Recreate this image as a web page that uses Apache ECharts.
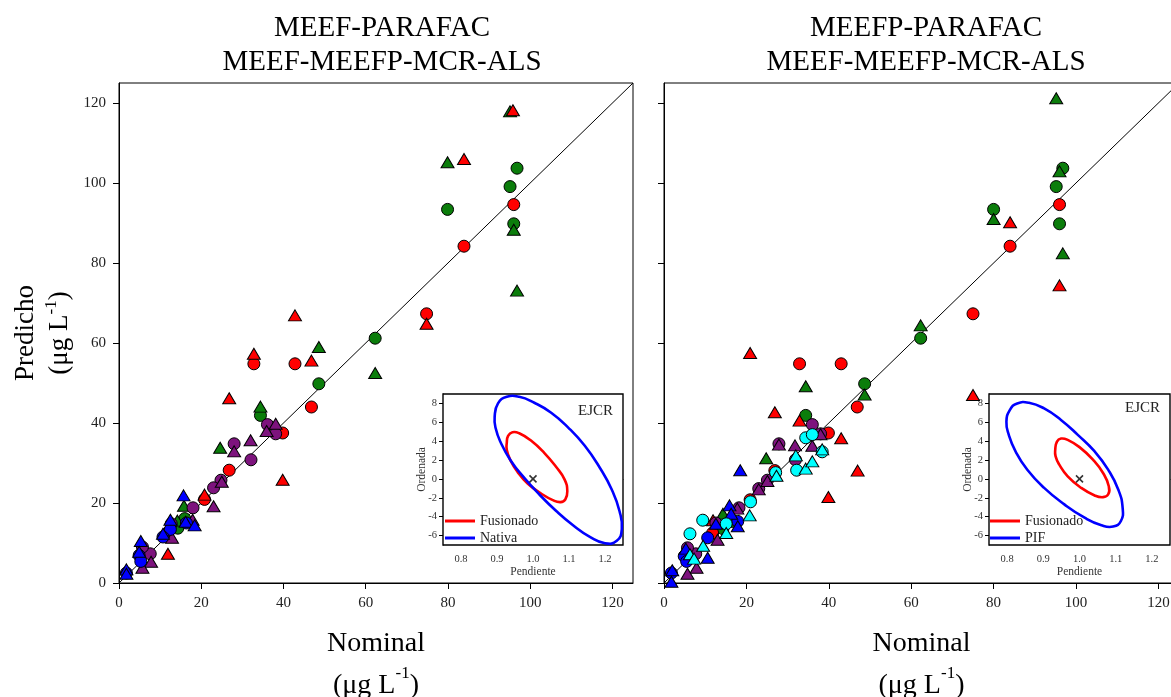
<!DOCTYPE html>
<html><head><meta charset="utf-8">
<script src="https://cdn.jsdelivr.net/npm/echarts@6/dist/echarts.min.js"></script>
<style>html,body{margin:0;padding:0;background:#fff}#c{width:1171px;height:697px}</style>
</head><body><div id="c"></div>
<script>
const SERIF = "'Liberation Serif','Times New Roman',serif";

// ---------- tick values ----------
const mainTicks = [0, 20, 40, 60, 80, 100, 120];
const insetXTicks = [0.8, 0.9, 1.0, 1.1, 1.2];
const insetYTicks = [-6, -4, -2, 0, 2, 4, 6, 8];
const identityLine = [[0, 0], [125, 125]];
const idealPoint = [[1.0, 0]];

// ---------- Left panel: MEEF-PARAFAC / MEEF-MEEFP-MCR-ALS ----------
const L_redCirc = [[96,94.6],[83.9,84.2],[74.8,67.3],[32.8,54.8],[42.8,54.8],[46.8,44.0],[39.8,37.5],[26.8,28.2],[20.8,20.9],[11.9,12.6]];
const L_redTri = [[95.8,118.2],[83.9,106.0],[74.8,64.8],[42.8,66.9],[32.8,57.3],[46.8,55.6],[26.8,46.2],[39.8,25.8],[20.8,22.1],[11.9,7.3]];
const L_greenCirc = [[96.8,103.7],[95.1,99.1],[79.9,93.4],[96.0,89.8],[62.3,61.2],[48.6,49.8],[34.4,41.9],[16.0,16.1],[14.3,13.7]];
const L_greenTri = [[95.1,117.9],[79.9,105.2],[96.0,88.3],[96.8,73.1],[48.6,59.0],[62.3,52.5],[34.4,44.1],[24.6,33.8],[15.8,19.3],[14.2,15.6]];
const L_purpleCirc = [[36.1,39.6],[38.1,37.3],[28.0,34.8],[32.1,30.8],[24.8,25.7],[23.0,23.8],[18.0,18.8],[12.7,14.8],[7.6,7.3],[5.7,9.0]];
const L_purpleTri = [[38.1,39.8],[35.9,38.0],[32.0,35.7],[28.0,32.9],[25.0,25.3],[23.0,19.2],[17.9,15.8],[12.9,11.3],[7.8,5.3],[5.7,3.8]];
const L_blueCirc = [[16.4,15.0],[12.5,13.4],[10.7,11.5],[4.9,6.9],[5.3,5.4],[1.8,2.5]];
const L_blueTri = [[15.7,21.9],[12.5,15.8],[16.2,15.3],[18.4,14.4],[10.7,12.3],[5.3,10.5],[4.9,7.8],[1.8,3.4],[1.8,2.3]];

// ---------- Right panel: MEEFP-PARAFAC / MEEF-MEEFP-MCR-ALS ----------
const R_redCirc = [[96,94.6],[84.0,84.2],[75.0,67.3],[32.9,54.8],[43.0,54.8],[46.9,44.0],[39.9,37.5],[26.9,28.1],[20.9,20.8],[11.8,12.5]];
const R_redTri = [[84.0,90.2],[96.0,74.4],[75.0,47.0],[20.9,57.5],[26.9,42.7],[32.9,40.6],[43.0,36.2],[47.0,28.1],[39.9,21.5],[11.9,15.7]];
const R_greenCirc = [[96.8,103.7],[95.2,99.1],[80.0,93.4],[96.0,89.8],[62.3,61.2],[48.7,49.8],[34.4,41.9],[14.3,13.6]];
const R_greenTri = [[95.2,121.2],[96.0,102.9],[80.0,91.0],[96.8,82.4],[62.3,64.4],[48.7,47.1],[34.4,49.2],[24.8,31.2],[14.3,17.3],[16.1,15.3]];
const R_purpleCirc = [[36.0,39.6],[38.0,37.3],[27.9,34.8],[31.9,30.8],[25.1,25.7],[23.0,23.6],[18.2,18.8],[12.6,15.0],[7.7,7.3],[5.7,8.8]];
const R_purpleTri = [[38.0,37.2],[27.9,34.6],[31.8,34.4],[36.0,34.3],[25.1,25.5],[23.0,23.4],[17.8,18.6],[13.0,10.8],[7.9,3.8],[5.7,2.3]];
const R_blueCirc = [[17.9,15.4],[10.6,11.3],[4.9,6.7],[5.5,5.4],[1.8,2.5]];
const R_blueTri = [[18.5,28.2],[15.9,19.4],[16.3,17.3],[17.9,14.2],[10.6,6.3],[5.3,8.6],[2.0,3.2],[1.8,0.3],[12.6,14.8]];
const R_cyanCirc = [[9.4,15.7],[6.3,12.3],[21.0,20.3],[27.1,27.6],[32.2,28.2],[34.4,36.3],[36.0,37.1],[38.4,32.8],[15.1,14.8]];
const R_cyanTri = [[20.8,16.9],[15.1,12.5],[9.5,9.3],[6.3,7.2],[7.3,6.1],[27.3,26.8],[32.0,31.9],[34.4,28.6],[36.0,30.4],[38.4,33.4]];

// ---------- EJCR ellipses (pendiente, ordenada) ----------
const L_fusionado = [[0.9271,3.79],[0.9308,4.56],[0.9430,4.95],[0.9617,4.84],[0.9944,4.07],[1.0318,2.74],[1.0645,1.26],[1.0879,-0.07],[1.0953,-1.30],[1.0897,-2.18],[1.0766,-2.46],[1.0551,-2.25],[1.0224,-1.54],[0.9850,-0.49],[0.9570,0.74],[0.9364,2.04],[0.9271,3.09]];
const L_nativa = [[0.8935,6.60],[0.9028,8.00],[0.9271,8.70],[0.9617,8.70],[1.0037,8.07],[1.0505,7.02],[1.0972,5.47],[1.1439,3.51],[1.1860,1.16],[1.2187,-1.12],[1.2402,-3.40],[1.2467,-5.33],[1.2327,-6.56],[1.2000,-6.81],[1.1579,-6.14],[1.1112,-4.91],[1.0645,-3.40],[1.0178,-1.65],[0.9757,0.11],[0.9383,1.93],[0.9103,3.86],[0.8963,5.37]];
const R_fusionado = [[0.9330,3.09],[0.9377,3.96],[0.9488,4.28],[0.9674,4.14],[1.0000,3.37],[1.0372,2.04],[1.0651,0.63],[1.0809,-0.77],[1.0791,-1.65],[1.0651,-1.93],[1.0419,-1.75],[1.0047,-0.95],[0.9674,0.28],[0.9442,1.51],[0.9340,2.39]];
const R_pif = [[0.7981,6.07],[0.8074,7.30],[0.8279,8.00],[0.8605,8.07],[0.9023,7.47],[0.9488,6.25],[0.9953,4.67],[1.0419,2.91],[1.0791,0.98],[1.1070,-1.12],[1.1191,-3.05],[1.1144,-4.46],[1.0930,-5.05],[1.0605,-4.91],[1.0140,-4.11],[0.9581,-2.70],[0.9023,-0.95],[0.8558,0.98],[0.8233,2.91],[0.8047,4.67]];

const COL = {red:'#ff0000', green:'#0b7d0b', purple:'#7d137d', blue:'#0000ff', cyan:'#00ffff'};

function pts(name, data, color, shape, gi) {
  return {
    type: 'scatter', name, data, xAxisIndex: gi, yAxisIndex: gi,
    symbol: shape === 'c' ? 'circle' : 'triangle',
    symbolSize: shape === 'c' ? 12 : [13, 11],
    itemStyle: {color, borderColor: '#000', borderWidth: 1, opacity: 1},
    silent: true, z: 3
  };
}
function ellipse(name, data, color, gi) {
  return {
    type: 'custom', name, xAxisIndex: gi, yAxisIndex: gi,
    coordinateSystem: 'cartesian2d',
    data: [data[0]],
    itemStyle: {color},
    renderItem: function (params, api) {
      return {
        type: 'polygon',
        shape: {points: data.map(p => api.coord(p)), smooth: 0.5},
        style: {fill: 'none', stroke: color, lineWidth: 2.6}
      };
    },
    silent: true, z: 8
  };
}

const labelStyle = {fontFamily: SERIF, fontSize: 15, color: '#222'};
const nameRich = {
  m: {fontFamily: SERIF, fontSize: 28, color: '#000', lineHeight: 42},
  s: {fontFamily: SERIF, fontSize: 17, color: '#000', lineHeight: 12, verticalAlign: 'top'}
};
const nameRichY = {
  m: {fontFamily: SERIF, fontSize: 27, color: '#000', lineHeight: 34},
  s: {fontFamily: SERIF, fontSize: 17, color: '#000', lineHeight: 10, verticalAlign: 'top'}
};

function mainX(gi, showLabel) {
  return {
    gridIndex: gi, type: 'value', min: 0, max: 125, interval: 20,
    axisLine: {show: true, lineStyle: {color: '#000', width: 1}},
    axisTick: {show: true, customValues: mainTicks, length: 6, lineStyle: {color: '#000'}},
    axisLabel: {show: showLabel, customValues: mainTicks, margin: 13, ...labelStyle},
    splitLine: {show: false},
    name: '{m|Nominal}\n{m|(μg L}{s|-1}{m|)}', nameLocation: 'middle', nameGap: 40,
    nameTextStyle: {rich: nameRich, fontFamily: SERIF, fontSize: 28, lineHeight: 42}
  };
}
function mainY(gi, showLabel) {
  const a = {
    gridIndex: gi, type: 'value', min: 0, max: 125, interval: 20,
    axisLine: {show: true, lineStyle: {color: '#000', width: 1}},
    axisTick: {show: true, customValues: mainTicks, length: 6, lineStyle: {color: '#000'}},
    axisLabel: {show: showLabel, customValues: mainTicks, margin: 13, ...labelStyle},
    splitLine: {show: false}
  };
  if (showLabel) {
    a.name = '{m|Predicho}\n{m|(μg L}{s|-1}{m|)}';
    a.nameLocation = 'middle'; a.nameGap = 42; a.nameRotate = 90;
    a.nameTextStyle = {rich: nameRichY, fontFamily: SERIF, fontSize: 27, lineHeight: 34};
  }
  return a;
}
function insetX(gi) {
  return {
    gridIndex: gi, type: 'value', min: 0.75, max: 1.25, interval: 0.1,
    axisLine: {show: true, lineStyle: {color: '#000'}},
    axisTick: {show: true, customValues: insetXTicks, length: 4, lineStyle: {color: '#000'}},
    axisLabel: {customValues: insetXTicks, margin: 9, fontFamily: SERIF, fontSize: 10.5, color: '#333',
      formatter: v => Number(v).toFixed(1)},
    splitLine: {show: false},
    name: 'Pendiente', nameLocation: 'middle', nameGap: 20,
    nameTextStyle: {fontFamily: SERIF, fontSize: 11.5, color: '#333'}
  };
}
function insetY(gi) {
  return {
    gridIndex: gi, type: 'value', min: -7, max: 9, interval: 2,
    axisLine: {show: true, lineStyle: {color: '#000'}},
    axisTick: {show: true, customValues: insetYTicks, length: 4, lineStyle: {color: '#000'}},
    axisLabel: {customValues: insetYTicks, margin: 6, fontFamily: SERIF, fontSize: 10.5, color: '#333'},
    splitLine: {show: false},
    name: 'Ordenada', nameLocation: 'middle', nameGap: 15, nameRotate: 90, nameMoveOverlap: false,
    nameTextStyle: {fontFamily: SERIF, fontSize: 11.5, color: '#333'}
  };
}

const chart = echarts.init(document.getElementById('c'), null, {renderer: 'canvas'});
const legendCommon = {
  orient: 'vertical', itemWidth: 30, itemHeight: 3, itemGap: 3, padding: 0, z: 20,
  selectedMode: false,
  textStyle: {fontFamily: SERIF, fontSize: 14, color: '#222'}
};
const gridCommon = {show: true, borderColor: '#000', outerBoundsMode: 'none', containLabel: false};

chart.setOption({
  animation: false,
  backgroundColor: '#fff',
  title: [
    {text: 'MEEF-PARAFAC\nMEEF-MEEFP-MCR-ALS', left: 377, top: 6, textAlign: 'center',
     textStyle: {fontFamily: SERIF, fontSize: 29, fontWeight: 'normal', color: '#000', lineHeight: 34}},
    {text: 'MEEFP-PARAFAC\nMEEF-MEEFP-MCR-ALS', left: 921, top: 6, textAlign: 'center',
     textStyle: {fontFamily: SERIF, fontSize: 29, fontWeight: 'normal', color: '#000', lineHeight: 34}}
  ],
  grid: [
    Object.assign({left: 119, top: 83, width: 514, height: 500, borderWidth: 1, backgroundColor: 'transparent'}, gridCommon),
    Object.assign({left: 664, top: 83, width: 515, height: 500, borderWidth: 1, backgroundColor: 'transparent'}, gridCommon),
    Object.assign({left: 443, top: 394, width: 180, height: 151, borderWidth: 1.4, backgroundColor: '#fff', z: 1}, gridCommon),
    Object.assign({left: 989, top: 394, width: 181, height: 151, borderWidth: 1.4, backgroundColor: '#fff', z: 1}, gridCommon)
  ],
  xAxis: [mainX(0, true), mainX(1, true), insetX(2), insetX(3)],
  yAxis: [mainY(0, true), mainY(1, false), insetY(2), insetY(3)],
  legend: [
    Object.assign({left: 445, top: 514, data: [{name: 'Fusionado', icon: 'rect'}, {name: 'Nativa', icon: 'rect'}]}, legendCommon),
    Object.assign({left: 990, top: 514, data: [{name: 'Fusionado', icon: 'rect'}, {name: 'PIF', icon: 'rect'}]}, legendCommon)
  ],
  graphic: [
    {type: 'text', left: 578, top: 404, style: {text: 'EJCR', font: '15px ' + SERIF, fill: '#222'}, z: 100},
    {type: 'text', left: 1125, top: 401, style: {text: 'EJCR', font: '15px ' + SERIF, fill: '#222'}, z: 100}
  ],
  series: [
    {type: 'line', data: identityLine, xAxisIndex: 0, yAxisIndex: 0, symbol: 'none', lineStyle: {color: '#000', width: 1}, silent: true, z: 2},
    {type: 'line', data: identityLine, xAxisIndex: 1, yAxisIndex: 1, symbol: 'none', lineStyle: {color: '#000', width: 1}, silent: true, z: 2},
    pts('L green circle', L_greenCirc, COL.green, 'c', 0),
    pts('L green triangle', L_greenTri, COL.green, 't', 0),
    pts('L red circle', L_redCirc, COL.red, 'c', 0),
    pts('L red triangle', L_redTri, COL.red, 't', 0),
    pts('L purple circle', L_purpleCirc, COL.purple, 'c', 0),
    pts('L purple triangle', L_purpleTri, COL.purple, 't', 0),
    pts('L blue circle', L_blueCirc, COL.blue, 'c', 0),
    pts('L blue triangle', L_blueTri, COL.blue, 't', 0),
    pts('R green circle', R_greenCirc, COL.green, 'c', 1),
    pts('R green triangle', R_greenTri, COL.green, 't', 1),
    pts('R red circle', R_redCirc, COL.red, 'c', 1),
    pts('R red triangle', R_redTri, COL.red, 't', 1),
    pts('R purple circle', R_purpleCirc, COL.purple, 'c', 1),
    pts('R purple triangle', R_purpleTri, COL.purple, 't', 1),
    pts('R blue circle', R_blueCirc, COL.blue, 'c', 1),
    pts('R blue triangle', R_blueTri, COL.blue, 't', 1),
    pts('R cyan circle', R_cyanCirc, COL.cyan, 'c', 1),
    pts('R cyan triangle', R_cyanTri, COL.cyan, 't', 1),
    ellipse('Fusionado', L_fusionado, '#ff0000', 2),
    ellipse('Nativa', L_nativa, '#0000ff', 2),
    ellipse('Fusionado', R_fusionado, '#ff0000', 3),
    ellipse('PIF', R_pif, '#0000ff', 3),
    {type: 'scatter', data: idealPoint, xAxisIndex: 2, yAxisIndex: 2, symbol: 'path://M0,0L10,10M10,0L0,10', symbolSize: 7,
     itemStyle: {color: 'none', borderColor: '#000', borderWidth: 1.6}, silent: true, z: 9},
    {type: 'scatter', data: idealPoint, xAxisIndex: 3, yAxisIndex: 3, symbol: 'path://M0,0L10,10M10,0L0,10', symbolSize: 7,
     itemStyle: {color: 'none', borderColor: '#000', borderWidth: 1.6}, silent: true, z: 9}
  ]
});
</script></body></html>
